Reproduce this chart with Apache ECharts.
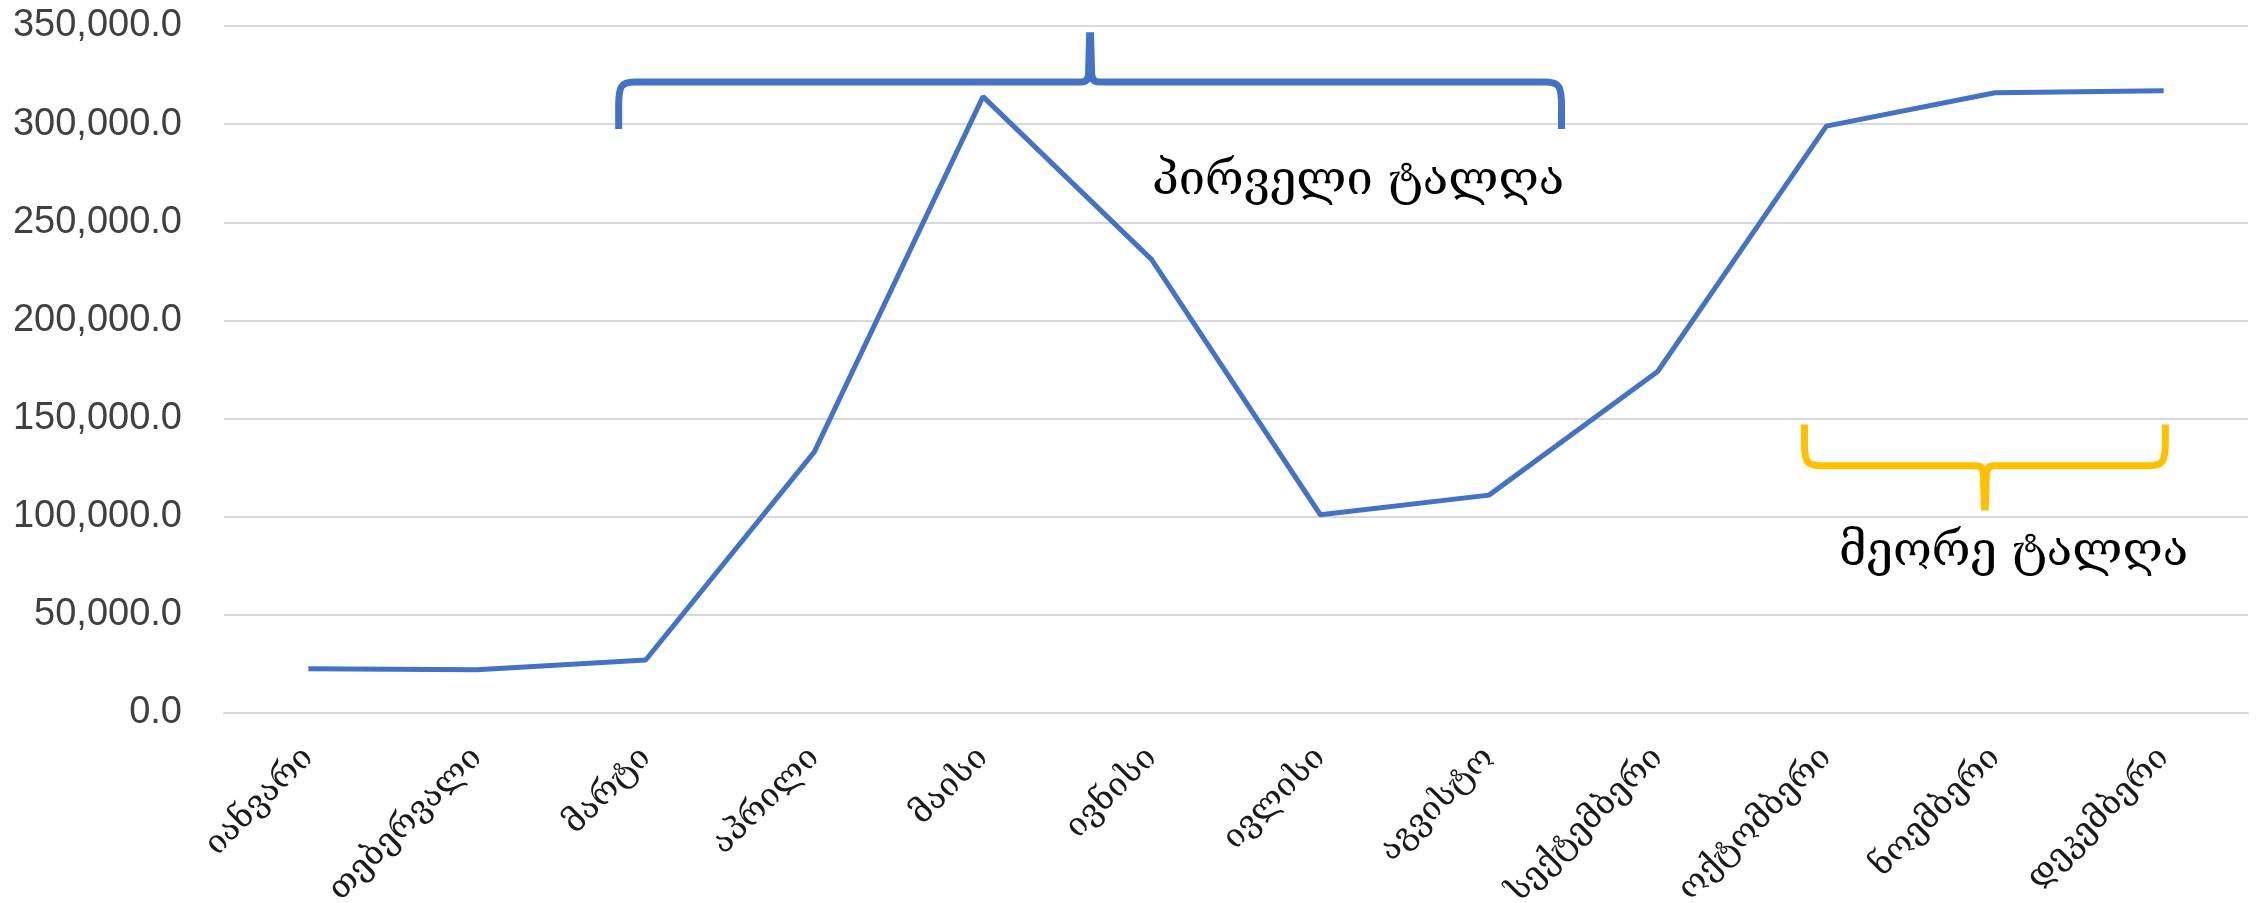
<!DOCTYPE html>
<html>
<head>
<meta charset="utf-8">
<script src="https://cdn.jsdelivr.net/npm/echarts@6/dist/echarts.min.js"></script>
<style>
    html, body { margin: 0; padding: 0; background: #fff; }
    #chart { width: 2267px; height: 903px; }
</style>
</head>
<body>
<div id="chart"></div>
<script>
// Chart data
const months = ['იანვარი', 'თებერვალი', 'მარტი', 'აპრილი', 'მაისი', 'ივნისი',
    'ივლისი', 'აგვისტო', 'სექტემბერი', 'ოქტომბერი', 'ნოემბერი', 'დეკემბერი'];
const values = [22500, 22000, 27000, 133000, 314000, 231000,
    101000, 111000, 174000, 299000, 316000, 317000];
const yMin = 0;
const yMax = 350000;
const yStep = 50000;

// Braces (first wave above, second wave below)
const waveNames = ['პირველი ტალღა', 'მეორე ტალღა'];
const braceFrom = [2, 9];
const braceFromShift = [-0.16, -0.13];
const braceTo = [7, 11];
const braceToShift = [0.43, 0.01];
const braceBar = [321500, 126000];
const braceTip = [345000, 105000];
const braceEnds = [297500, 147000];

const braceColors = ['#4472C4', '#FFC000'];
const geoFont = "'DejaVu Serif', 'DejaVu Sans', sans-serif";

document.addEventListener('DOMContentLoaded', function () {
    const chart = echarts.init(document.getElementById('chart'));

    const braceData = braceFrom.map((f, i) => [f, braceFromShift[i], braceTo[i], braceToShift[i],
        braceBar[i], braceTip[i], braceEnds[i]]);

    function renderBrace(params, api) {
        const band = api.size([1, 0])[0];
        const yBar = api.coord([api.value(0), api.value(4)])[1];
        const yTip = api.coord([api.value(0), api.value(5)])[1];
        const yEnd = api.coord([api.value(0), api.value(6)])[1];
        const x0 = api.coord([api.value(0), 0])[0] + api.value(1) * band;
        const x1 = api.coord([api.value(2), 0])[0] + api.value(3) * band;
        const xm = (x0 + x1) / 2;
        const se = Math.sign(yEnd - yBar);
        const st = Math.sign(yTip - yBar);
        const r = 16, rt = 9;
        const d = [
            'M', x0, yEnd,
            'L', x0, yBar + se * r * 1.5,
            'C', x0, yBar + se * r * 0.3, x0 + 2, yBar, x0 + r, yBar,
            'L', xm - rt, yBar,
            'Q', xm - 1.5, yBar, xm - 1.5, yBar + st * rt,
            'L', xm - 0.5, yTip,
            'L', xm + 0.5, yTip,
            'L', xm + 1.5, yBar + st * rt,
            'Q', xm + 1.5, yBar, xm + rt, yBar,
            'L', x1 - r, yBar,
            'C', x1 - 2, yBar, x1, yBar + se * r * 0.3, x1, yBar + se * r * 1.5,
            'L', x1, yEnd
        ].join(' ');
        return {
            type: 'path',
            shape: { pathData: d },
            style: {
                fill: 'none',
                stroke: braceColors[params.dataIndex],
                lineWidth: 7
            }
        };
    }

    const option = {
        animation: false,
        backgroundColor: '#fff',
        grid: {
            left: 224,
            right: 19,
            top: 26,
            bottom: 190,
            containLabel: false,
            outerBoundsMode: 'none'
        },
        xAxis: {
            type: 'category',
            data: months,
            axisLine: {
                lineStyle: { color: '#d9d9d9', width: 2 }
            },
            axisTick: {
                length: 12,
                lineStyle: { color: '#d9d9d9', width: 2 }
            },
            axisLabel: {
                rotate: 45,
                margin: 40,
                interval: 0,
                color: '#1a1a1a',
                fontSize: 33,
                fontFamily: geoFont
            }
        },
        yAxis: {
            type: 'value',
            min: yMin,
            max: yMax,
            interval: yStep,
            axisLine: { show: false },
            axisTick: { show: false },
            axisLabel: {
                margin: 42,
                color: '#404040',
                fontSize: 38,
                fontFamily: "'Liberation Sans', Arial, sans-serif",
                formatter: function (v) {
                    return v.toLocaleString('en-US', { minimumFractionDigits: 1, maximumFractionDigits: 1 });
                }
            },
            splitLine: {
                lineStyle: { color: '#d9d9d9', width: 2 }
            }
        },
        series: [
            {
                type: 'line',
                data: values,
                symbol: 'none',
                lineStyle: { color: '#4472C4', width: 5 },
                z: 3
            },
            {
                type: 'custom',
                data: braceData,
                renderItem: renderBrace,
                z: 4
            }
        ],
        graphic: [
            {
                type: 'text',
                left: 1152,
                top: 158,
                style: { text: waveNames[0], fontSize: 47, fontFamily: geoFont, fill: '#000' }
            },
            {
                type: 'text',
                left: 1839,
                top: 529,
                style: { text: waveNames[1], fontSize: 47, fontFamily: geoFont, fill: '#000' }
            }
        ]
    };

    chart.setOption(option);
});
</script>
</body>
</html>
